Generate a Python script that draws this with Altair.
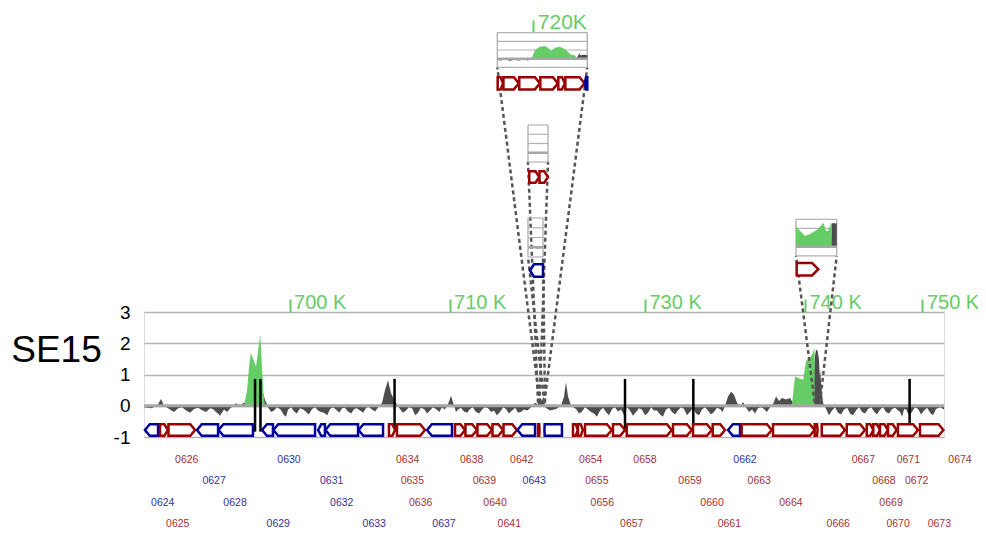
import altair as alt
import pandas as pd

# ---------------- colours / fonts ----------------
RED, BLUE = "#990000", "#000099"
LRED, LBLUE = "#a33333", "#333399"
GREEN = "#66cc66"
SIG = "#4d4d4d"
GRID = "#b3b3b3"
FRAME = "#a6a6a6"
DASH = "#555555"
FONT = "Liberation Sans"

# ---------------- main track: x scale (kb, with two collapsed regions) ----------------
main_domain = [690.9, 715.5, 723.75, 740.6, 743.6, 751.35]
main_range = [0, 393.6, 401, 670.6, 676, 800]
tick_kb = [700, 710, 730, 740, 750]
y_levels = [-1, 0, 1, 2, 3]

# grey signal (log ratio) along the main track
grey_kb = [690.90, 691.40, 691.78, 691.96, 692.15, 692.53, 693.03, 693.53, 694.03, 694.53,
           695.03, 695.40, 695.65, 695.90, 696.28, 696.65, 696.90, 697.15, 697.40, 697.78,
           698.03, 698.28, 698.46, 698.65, 699.03, 699.40, 699.65, 699.90, 700.28, 700.65,
           701.03, 701.40, 701.78, 702.15, 702.53, 702.90, 703.28, 703.65, 704.03, 704.40,
           704.78, 705.15, 705.53, 705.78, 705.96, 706.15, 706.34, 706.53, 706.71, 706.90,
           707.28, 707.65, 708.03, 708.40, 708.78, 709.15, 709.53, 709.90, 710.09, 710.28,
           710.53, 710.90, 711.28, 711.65, 712.03, 712.40, 712.78, 713.15, 713.53, 713.90,
           714.28, 714.65, 715.03, 715.34,
           715.5, 716.5, 717.5, 719.0, 720.5, 722.0, 723.5,
           723.75, 724.06, 724.44, 724.75, 724.94, 725.06, 725.19, 725.38, 725.69, 726.06,
           726.44, 726.81, 727.19, 727.56, 727.94, 728.31, 728.69, 729.06, 729.44, 729.81,
           730.19, 730.56, 730.94, 731.31, 731.69, 732.06, 732.44, 732.81, 733.19, 733.56,
           733.94, 734.31, 734.69, 735.0, 735.19, 735.38, 735.56, 735.75, 735.94, 736.13,
           736.31, 736.69, 737.06, 737.44, 737.81, 738.0, 738.19, 738.38, 738.56, 738.81,
           739.06, 739.25, 739.69, 740.19, 740.44, 740.56,
           740.8, 741.5, 742.3, 743.0, 743.5,
           743.6, 743.69, 743.79, 743.98, 744.35, 744.73, 745.10, 745.48, 745.85, 746.23,
           746.60, 746.98, 747.35, 747.73, 748.10, 748.48, 748.73, 748.98, 749.35, 749.73,
           750.10, 750.48, 750.85, 751.35]
grey_val = [-0.05, -0.08, 0.05, 0.22, 0.0, -0.12, -0.08, -0.15, -0.1, -0.14,
            -0.08, -0.2, -0.32, -0.12, -0.08, 0.08, 0.02, 0.1, 0.15, 0.2,
            0.45, 0.5, 0.2, -0.05, -0.15, -0.1, -0.3, -0.12, -0.18, -0.08,
            -0.2, -0.1, -0.15, -0.22, -0.1, -0.12, -0.08, -0.18, -0.1, -0.15,
            -0.06, -0.12, -0.05, 0.1, 0.5, 0.82, 0.4, 0.2, 0.05, -0.1,
            -0.15, -0.08, -0.22, -0.1, -0.15, -0.1, -0.05, 0.05, 0.32, 0.0,
            -0.12, -0.18, -0.1, -0.2, -0.12, -0.08, -0.15, -0.2, -0.1, -0.15,
            -0.22, -0.12, -0.08, 0.1,
            0.05, 0.2, 0.1, 0.25, 0.15, 0.3, 0.1,
            -0.05, -0.15, -0.1, 0.0, 0.3, 0.75, 0.3, 0.0, -0.1, -0.18,
            -0.12, -0.25, -0.15, -0.2, -0.1, -0.18, -0.3, -0.15, -0.2, -0.12,
            -0.22, -0.15, -0.28, -0.12, -0.2, -0.15, -0.1, -0.2, -0.25, -0.12,
            -0.15, -0.2, -0.1, 0.0, 0.3, 0.45, 0.35, 0.1, -0.05, 0.12,
            -0.05, -0.12, -0.08, -0.1, -0.05, 0.05, 0.3, 0.15, 0.25, 0.2,
            0.25, 0.1, 0.2, 0.25, 0.3, 1.0,
            1.6, 1.8, 1.75, 1.5, 0.9,
            1.2, 0.6, 0.1, -0.1, -0.15, -0.22, -0.12, -0.25, -0.15, -0.2,
            -0.1, -0.18, -0.12, -0.2, -0.1, -0.15, -0.35, -0.12, -0.2, -0.1,
            -0.15, -0.22, -0.1, -0.12]

# finer wiggles of the grey signal read between the samples above
grey_kb_fine = [692.78, 693.28, 693.78, 694.28, 694.78, 695.20, 695.52, 696.10, 696.45,
                698.84, 699.20, 699.52, 699.78, 700.10, 700.45, 700.85, 701.20, 701.60, 701.95,
                702.35, 702.70, 703.10, 703.45, 703.85, 704.20, 704.60, 704.95, 705.35,
                707.08, 707.45, 707.85, 708.20, 708.60, 708.95, 709.35, 709.70, 710.40, 710.70,
                711.10, 711.45, 711.85, 712.20, 712.60, 712.95, 713.35, 713.70, 714.10, 714.45, 714.85,
                725.88, 726.25, 726.62, 727.00, 727.38, 727.75, 728.12, 728.50, 728.88, 729.25,
                729.62, 730.00, 730.38, 730.75, 731.12, 731.50, 731.88, 732.25, 732.62, 733.00,
                733.38, 733.75, 734.12, 734.50, 734.85,
                736.50, 736.88, 737.25, 737.62,
                744.16, 744.54, 744.92, 745.30, 745.66, 746.04, 746.42, 746.80, 747.16, 747.54,
                747.92, 748.30, 748.60, 748.86, 749.16, 749.54, 749.92, 750.30, 750.66, 751.10]
grey_val_fine = [-0.2, -0.05, -0.22, -0.06, -0.2, -0.1, -0.25, -0.2, -0.02,
                 -0.2, -0.05, -0.18, -0.35, -0.05, -0.25, -0.12, -0.28, -0.05, -0.2,
                 -0.3, -0.05, -0.22, -0.06, -0.25, -0.08, -0.22, -0.04, -0.18,
                 -0.22, -0.05, -0.3, -0.06, -0.25, -0.05, -0.2, -0.12, -0.2, -0.06,
                 -0.22, -0.05, -0.25, -0.05, -0.2, -0.3, -0.05, -0.25, -0.06, -0.2, -0.15,
                 -0.25, -0.05, -0.2, -0.35, -0.06, -0.3, -0.05, -0.12, -0.05, -0.32,
                 -0.08, -0.3, -0.05, -0.15, -0.35, -0.06, -0.28, -0.05, -0.3, -0.06,
                 -0.3, -0.05, -0.28, -0.06, -0.2,
                 -0.2, -0.25, -0.05, -0.2,
                 -0.3, -0.05, -0.28, -0.06, -0.3, -0.05, -0.25, -0.05, -0.28, -0.05,
                 -0.25, -0.06, -0.2, -0.1, -0.3, -0.05, -0.28, -0.06, -0.3, -0.05]

# green (enriched) signal along the main track
green_kb = [697.15, 697.34, 697.46, 697.57, 697.73, 697.90, 698.04, 698.17, 698.28, 698.37, 698.46,
            739.17, 739.38, 739.58, 739.89, 740.06, 740.21, 740.38, 740.52, 740.60, 740.62]
green_val = [0.0, 0.5, 1.2, 1.69, 1.5, 1.25, 1.8, 2.27, 1.2, 0.4, 0.0,
             0.0, 0.94, 0.89, 0.83, 1.42, 1.52, 1.58, 1.74, 1.85, 0.0]

# black markers
mark_kb = [697.84, 698.18, 706.56, 728.75, 733.02, 749.2]

# genes on the main track
gene_start = [690.96, 691.90, 692.43, 694.21, 695.56, 698.28, 698.99, 701.78, 702.24, 704.31,
              706.21, 706.71, 708.59, 710.34, 710.99, 711.74, 712.68, 713.37, 714.24, 716.0,
              723.1, 725.5, 725.81, 726.25, 728.0, 728.86, 731.75, 733.0, 734.23, 735.19,
              736.04, 738.0, 740.65, 743.71, 745.27, 746.52, 746.93, 747.35, 747.85, 748.47, 749.85]
gene_end = [691.78, 692.40, 694.09, 695.53, 697.71, 698.96, 701.59, 702.21, 704.28, 705.84,
            706.59, 708.46, 710.15, 710.96, 711.71, 712.65, 713.34, 714.21, 715.34, 717.6,
            724.81, 725.81, 726.12, 727.92, 728.75, 731.67, 732.92, 734.17, 735.0, 735.94,
            737.92, 740.6, 742.24, 745.16, 746.41, 746.93, 747.35, 747.85, 748.39, 749.72, 751.31]
gene_strand = ['-', '+', '+', '-', '-', '-', '-', '-', '-', '-',
               '+', '+', '-', '+', '+', '+', '+', '+', '-', '+',
               '-', '+', '+', '+', '+', '+', '+', '+', '+', '-',
               '+', '+', '+', '+', '+', '+', '+', '+', '+', '+', '+']

# gene labels
label_name = ['0624', '0625', '0626', '0627', '0628', '0629', '0630', '0631', '0632', '0633',
              '0634', '0635', '0636', '0637', '0638', '0639', '0640', '0641', '0642', '0643',
              '0654', '0655', '0656', '0657', '0658', '0659', '0660', '0661', '0662', '0663', '0664',
              '0666', '0667', '0668', '0669', '0670', '0671', '0672', '0673', '0674']
label_kb = [692.07, 693.01, 693.57, 695.28, 696.59, 699.29, 699.96, 702.63, 703.26, 705.29,
            707.38, 707.67, 708.19, 709.65, 711.38, 712.17, 712.84, 713.73, 714.51, 715.29,
            726.61, 726.99, 727.33, 729.17, 730.0, 732.81, 734.19, 735.27, 736.25, 737.14, 739.12,
            744.74, 746.31, 747.6, 748.04, 748.48, 749.12, 749.64, 751.06, 752.35]
label_row = [3, 4, 1, 2, 3, 4, 1, 2, 3, 4, 1, 2, 3, 4, 1, 2, 3, 4, 1, 2,
             1, 2, 3, 4, 1, 2, 3, 4, 1, 2, 3,
             4, 1, 2, 3, 4, 1, 2, 4, 1]
label_strand = ['-', '+', '+', '-', '-', '-', '-', '-', '-', '-',
                '+', '+', '+', '-', '+', '+', '+', '+', '+', '-',
                '+', '+', '+', '+', '+', '+', '+', '+', '-', '+', '+',
                '+', '+', '+', '+', '+', '+', '+', '+', '+']

# ---------------- inset C (720K region) ----------------
c_domain = [718.0, 723.0]
c_ticks = [720]
c_grey_kb = [718.0, 718.2, 718.45, 718.7, 718.95, 719.2, 719.45, 719.7, 719.91, 720.0,
             722.41, 722.5, 722.56, 722.62, 722.7, 722.85, 723.0]
c_grey_val = [-0.15, -0.2, -0.1, -0.25, -0.15, -0.2, -0.1, -0.2, -0.05, 0.0,
              0.05, 0.4, 0.62, 0.35, 0.42, 0.45, 0.4]
c_green_kb = [719.91, 720.0, 720.09, 720.37, 720.65, 720.83, 721.02, 721.2, 721.48, 721.76,
              722.0, 722.13, 722.32, 722.41]
c_green_val = [0.0, 0.5, 1.0, 1.38, 1.46, 1.19, 0.88, 1.27, 1.38, 1.08, 0.62, 0.42, 0.4, 0.0]
c_gene_start = [718.02, 718.34, 719.22, 720.39, 721.39, 721.78, 722.87]
c_gene_end = [718.32, 719.2, 720.37, 721.37, 721.76, 722.85, 723.0]
c_gene_strand = ['+', '+', '+', '+', '+', '+', '-']

# ---------------- inset B ----------------
b_domain = [716.0, 717.6]
b_grey_kb = [716.0, 716.3, 716.6, 716.9, 717.2, 717.6]
b_grey_val = [-0.1, -0.05, -0.15, -0.08, -0.12, -0.05]
b_gene_start = [716.1, 716.92]
b_gene_end = [716.9, 717.6]
b_gene_strand = ['+', '+']

# ---------------- inset A ----------------
a_domain = [723.0, 723.75]
a_grey_kb = [723.0, 723.25, 723.5, 723.75]
a_grey_val = [-0.1, -0.05, -0.12, -0.08]
a_gene_start = [723.1]
a_gene_end = [723.75]
a_gene_strand = ['-']

# ---------------- inset D (740K region) ----------------
d_domain = [740.6, 743.6]
d_grey_kb = [740.6, 741.5, 742.5, 743.18, 743.23, 743.4, 743.6]
d_grey_val = [0.2, 0.2, 0.3, 0.4, 2.55, 2.6, 2.5]
d_green_kb = [740.6, 740.89, 741.26, 741.63, 742.13, 742.49, 742.61, 742.81, 742.98, 743.16, 743.23, 743.24]
d_green_val = [2.2, 1.75, 1.17, 1.39, 1.82, 2.37, 2.63, 1.75, 1.75, 2.55, 2.55, 0.0]
d_gene_start = [740.65]
d_gene_end = [742.24]
d_gene_strand = ['+']

GRID_LEVELS = [-1, 1, 2, 3]
ZERO_LEVEL = [0]

# ---------------- helpers ----------------
MAIN_X = alt.Scale(domain=main_domain, range=main_range, nice=False, zero=False)
MAIN_Y = alt.Scale(domain=[-1, 3], range=[125, 0], nice=False, zero=False)
STRAND_STROKE = alt.Scale(domain=['+', '-'], range=[RED, BLUE])


def gene_table(starts, ends, strands, head):
    rows = []
    for i, (s, e, st) in enumerate(zip(starts, ends, strands)):
        h = min(head, 0.45 * (e - s))
        if st == '+':
            pts = [(s, 1, 0), (e - h, 1, 0), (e, 0.5, 0.5)]
        else:
            pts = [(s, 0.5, 0.5), (s + h, 1, 0), (e, 1, 0)]
        for x, t, b in pts:
            rows.append({'gene': i, 'x': x, 'top': t, 'bot': b, 'strand': st})
    return pd.DataFrame(rows)


def gene_layer(df, xs, lane_range):
    return alt.Chart(df).mark_area(fill='white', fillOpacity=1, strokeWidth=2.5,
                                   interpolate='linear').encode(
        x=alt.X('x:Q', scale=xs, axis=None),
        y=alt.Y('top:Q', scale=alt.Scale(domain=[0, 1], range=lane_range, nice=False, zero=False),
                axis=None, stack=None),
        y2='bot:Q',
        stroke=alt.Stroke('strand:N', scale=STRAND_STROKE, legend=None),
        detail='gene:N',
    )


def area_layer(kb, val, xs, ys, color):
    df = pd.DataFrame({'kb': kb, 'v': val}).sort_values('kb')
    return alt.Chart(df).mark_area(color=color, interpolate='linear').encode(
        x=alt.X('kb:Q', scale=xs, axis=None),
        y=alt.Y('v:Q', scale=ys, axis=None, stack=None),
        y2=alt.datum(0),
    )


def inset(domain, x_range, y_range, grey, green=None):
    d0, d1 = domain
    xs = alt.Scale(domain=domain, range=x_range, nice=False, zero=False)
    ys = alt.Scale(domain=[-1, 3], range=y_range, nice=False, zero=False)
    grid_df = pd.DataFrame({'level': GRID_LEVELS, 'x0': d0, 'x1': d1})
    zero_df = pd.DataFrame({'level': ZERO_LEVEL, 'x0': d0, 'x1': d1})
    side_df = pd.DataFrame({'x': [d0, d1], 'lo': -1, 'hi': 3})
    layers = [
        alt.Chart(grid_df).mark_rule(color=GRID, strokeWidth=1.2).encode(
            x=alt.X('x0:Q', scale=xs, axis=None), x2='x1:Q',
            y=alt.Y('level:Q', scale=ys, axis=None)),
        alt.Chart(side_df).mark_rule(color=FRAME, strokeWidth=1.2).encode(
            x=alt.X('x:Q', scale=xs, axis=None),
            y=alt.Y('lo:Q', scale=ys, axis=None), y2='hi:Q'),
        area_layer(grey[0], grey[1], xs, ys, SIG),
    ]
    if green is not None:
        layers.append(area_layer(green[0], green[1], xs, ys, GREEN))
    layers.append(alt.Chart(zero_df).mark_rule(color=FRAME, strokeWidth=2.5).encode(
        x=alt.X('x0:Q', scale=xs, axis=None), x2='x1:Q',
        y=alt.Y('level:Q', scale=ys, axis=None)))
    return alt.layer(*layers), xs


FUNNEL_Y = 0.1


def funnel(kb, px, py):
    df = pd.DataFrame({'kb': [kb], 'lvl': [FUNNEL_Y]})
    return alt.Chart(df).mark_rule(color=DASH, strokeWidth=2.5, strokeDash=[4, 3]).encode(
        x=alt.X('kb:Q', scale=MAIN_X, axis=None),
        y=alt.Y('lvl:Q', scale=MAIN_Y, axis=None),
        x2=alt.value(px), y2=alt.value(py))


# ---------------- axes (dedicated invisible unit charts) ----------------
x_axis_main = alt.Axis(orient='top', values=tick_kb, labelExpr="datum.value + ' K'",
                       domain=False, grid=False, ticks=True, tickColor=GREEN, tickWidth=2,
                       tickSize=13, labelColor=GREEN, labelFontSize=20, labelFont=FONT,
                       labelAlign='left', labelBaseline='alphabetic', labelPadding=-9,
                       labelOffset=4, labelOverlap=False, labelFlush=False, title=None)
y_axis_main = alt.Axis(orient='left', values=y_levels, labelExpr="'' + datum.value", grid=True,
                       gridColor=GRID, gridWidth=1.3, ticks=False, domain=False,
                       labelFontSize=19, labelFont=FONT, labelColor='black', labelPadding=14,
                       labelBaseline='middle', title='SE15', titleAngle=0, titleFontSize=37,
                       titleFont=FONT, titleFontWeight='normal', titleColor='black',
                       titleX=-88, titleY=49, titleAlign='center', titleBaseline='alphabetic')

x_axis_chart = alt.Chart(pd.DataFrame({'kb': tick_kb})).mark_rule(opacity=0).encode(
    x=alt.X('kb:Q', scale=MAIN_X, axis=x_axis_main))
y_axis_chart = alt.Chart(pd.DataFrame({'level': y_levels})).mark_rule(opacity=0).encode(
    y=alt.Y('level:Q', scale=MAIN_Y, axis=y_axis_main))

c_axis = alt.Axis(orient='top', values=c_ticks, labelExpr="datum.value + 'K'", domain=False,
                  grid=False, ticks=True, tickColor=GREEN, tickWidth=2, tickSize=12.7,
                  labelColor=GREEN, labelFontSize=21, labelFont=FONT, labelAlign='left',
                  labelBaseline='alphabetic', labelPadding=-8.3, labelOffset=4,
                  labelOverlap=False, labelFlush=False, title=None, offset=279.3)
c_axis_chart = alt.Chart(pd.DataFrame({'kb': c_ticks})).mark_rule(opacity=0).encode(
    x=alt.X('kb:Q', scale=alt.Scale(domain=c_domain, range=[353.3, 443.3], nice=False, zero=False),
            axis=c_axis))

# ---------------- main track ----------------
zero_main = alt.Chart(pd.DataFrame({'level': ZERO_LEVEL})).mark_rule(
    color=FRAME, strokeWidth=3).encode(y=alt.Y('level:Q', scale=MAIN_Y, axis=None))

marks_main = alt.Chart(pd.DataFrame({'kb': mark_kb, 'hi': 0.86, 'lo': -0.83})).mark_rule(
    color='black', strokeWidth=2.5).encode(
    x=alt.X('kb:Q', scale=MAIN_X, axis=None),
    y=alt.Y('hi:Q', scale=MAIN_Y, axis=None), y2='lo:Q')

# inset layout (pixels relative to the main plot's top-left corner)
C_X, C_Y, C_LANE = [353.3, 443.3], [-244.7, -279.3], [-222.6, -234.7]
B_X, B_Y, B_LANE = [384, 404], [-150, -187], [-129.3, -140.7]
A_X, A_Y, A_LANE = [384, 399], [-55, -94], [-35.3, -47.7]
D_X, D_Y, D_LANE = [652, 692.7], [-56.2, -92.7], [-36.6, -49]

funnels = [
    funnel(c_domain[0], C_X[0], C_Y[0]), funnel(c_domain[1], C_X[1], C_Y[0]),
    funnel(b_domain[0], B_X[0], B_Y[0]), funnel(b_domain[1], B_X[1], B_Y[0]),
    funnel(a_domain[0], A_X[0], A_Y[0]), funnel(a_domain[1], A_X[1], A_Y[0]),
    funnel(d_domain[0], D_X[0], D_Y[0]), funnel(d_domain[1], D_X[1], D_Y[0]),
]

main_layer = alt.layer(
    area_layer(grey_kb + grey_kb_fine, grey_val + grey_val_fine, MAIN_X, MAIN_Y, SIG),
    area_layer(green_kb, green_val, MAIN_X, MAIN_Y, GREEN),
    zero_main,
    marks_main,
    *funnels,
)

main_genes = gene_layer(gene_table(gene_start, gene_end, gene_strand, 0.3), MAIN_X, [123.7, 112.3])

labels = alt.Chart(pd.DataFrame({'name': label_name, 'kb': label_kb, 'row': label_row,
                                 'strand': label_strand})).mark_text(
    fontSize=10.5, font=FONT, align='center', baseline='middle').encode(
    x=alt.X('kb:Q', scale=MAIN_X, axis=None),
    y=alt.Y('row:Q', scale=alt.Scale(domain=[1, 4], range=[148, 212], nice=False, zero=False), axis=None),
    text='name:N',
    color=alt.Color('strand:N', scale=alt.Scale(domain=['+', '-'], range=[LRED, LBLUE]), legend=None),
)

c_panel, c_xs = inset(c_domain, C_X, C_Y, (c_grey_kb, c_grey_val), (c_green_kb, c_green_val))
c_genes = gene_layer(gene_table(c_gene_start, c_gene_end, c_gene_strand, 0.28), c_xs, C_LANE)
b_panel, b_xs = inset(b_domain, B_X, B_Y, (b_grey_kb, b_grey_val))
b_genes = gene_layer(gene_table(b_gene_start, b_gene_end, b_gene_strand, 0.3), b_xs, B_LANE)
a_panel, a_xs = inset(a_domain, A_X, A_Y, (a_grey_kb, a_grey_val))
a_genes = gene_layer(gene_table(a_gene_start, a_gene_end, a_gene_strand, 0.2), a_xs, A_LANE)
d_panel, d_xs = inset(d_domain, D_X, D_Y, (d_grey_kb, d_grey_val), (d_green_kb, d_green_val))
d_genes = gene_layer(gene_table(d_gene_start, d_gene_end, d_gene_strand, 0.45), d_xs, D_LANE)

chart = alt.layer(
    y_axis_chart, x_axis_chart, c_axis_chart,
    main_layer, main_genes, labels,
    c_panel, c_genes, b_panel, b_genes, a_panel, a_genes, d_panel, d_genes,
).resolve_scale(
    x='independent', y='independent', color='independent', stroke='independent'
).resolve_axis(
    x='independent', y='independent'
).properties(
    width=800, height=125,
    autosize=alt.AutoSizeParams(type='none'),
    padding={'left': 136, 'top': 304, 'right': 34, 'bottom': 92},
).configure_view(
    stroke=FRAME, strokeWidth=1.5
).configure(font=FONT)

chart.save("out.html", embed_options={"renderer": "svg", "actions": False})
